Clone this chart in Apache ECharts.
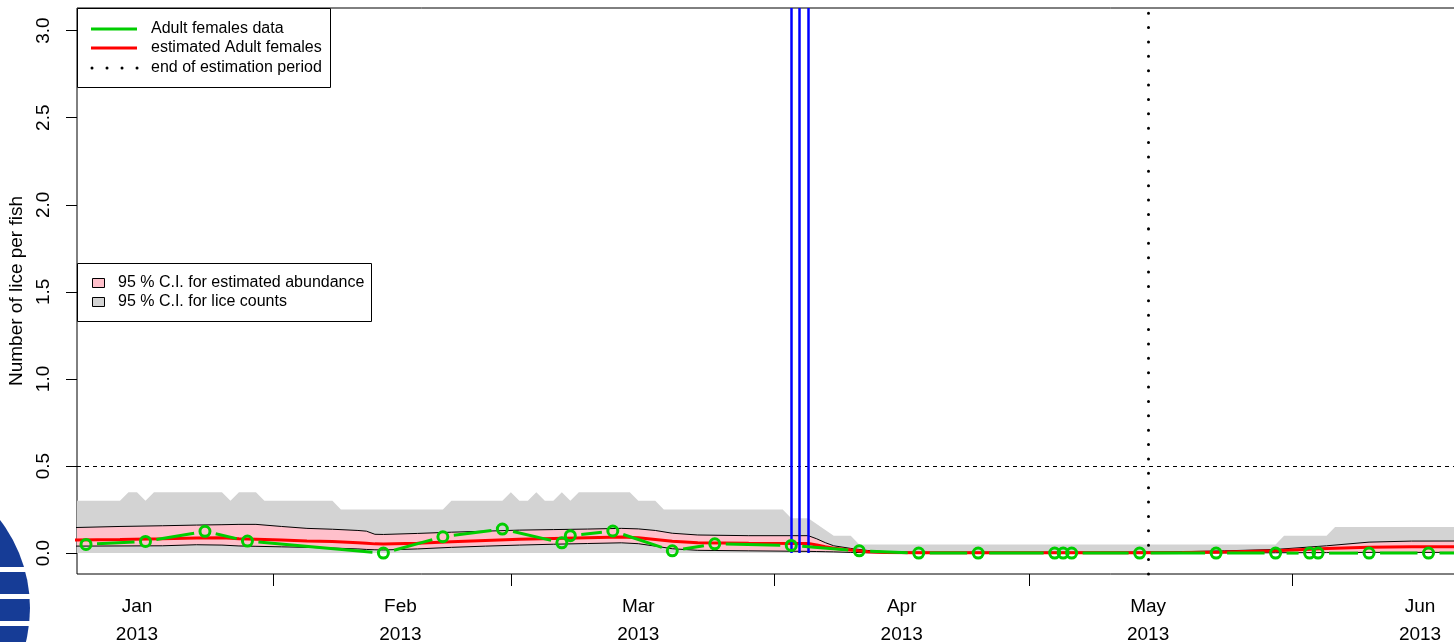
<!DOCTYPE html>
<html>
<head>
<meta charset="utf-8">
<script src="https://cdn.jsdelivr.net/npm/echarts@6/dist/echarts.min.js"></script>
<style>
  html, body { margin: 0; padding: 0; background: #fff; overflow: hidden; }
  #chart { width: 1454px; height: 642px; }
</style>
</head>
<body>
<div id="chart"></div>
<script>
// Days are counted from 1 Jan 2013 (day 0).
const monthDays = [0, 31, 59, 90, 119, 151];
const monthNames = ['Jan', 'Feb', 'Mar', 'Apr', 'May', 'Jun'];
const yearLabel = '2013';
const midMonthTicks = [16, 44, 75, 105, 136];
const yTicks = [0, 0.5, 1, 1.5, 2, 2.5, 3];

// Observed adult females per fish
const dataDays = [-6, 1, 8, 13, 29, 36, 43, 50, 51, 56, 63, 68, 77, 85, 92, 99, 108, 109, 110, 118, 127, 134, 138, 139, 145, 152, 159];
const dataVals = [0.050, 0.067, 0.125, 0.069, 0.0, 0.094, 0.138, 0.059, 0.100, 0.127, 0.013, 0.053, 0.044, 0.013, 0, 0, 0, 0, 0, 0, 0, 0, 0, 0, 0, 0, 0];

// 95 % C.I. for lice counts (upper edge, lower edge is zero)
const countDays = [-8, -2, -1, 0, 1, 2, 10, 11, 12, 14, 15, 23, 24, 36, 37, 43, 44, 45, 46, 47, 48, 49, 50, 51, 52, 58, 59, 61, 62, 76, 77, 79, 82, 84, 85, 134, 135, 140, 141, 162];
const countUpper = [0.30, 0.30, 0.35, 0.35, 0.30, 0.35, 0.35, 0.30, 0.35, 0.35, 0.30, 0.30, 0.25, 0.25, 0.30, 0.30, 0.35, 0.30, 0.30, 0.35, 0.30, 0.30, 0.35, 0.30, 0.35, 0.35, 0.30, 0.30, 0.25, 0.25, 0.20, 0.20, 0.10, 0.10, 0.05, 0.05, 0.10, 0.10, 0.15, 0.15];

// Estimated abundance and its 95 % C.I.
const estDays  = [-8, -2, 3, 7, 10, 12, 14, 17, 20, 23, 26, 27, 28, 29, 33, 37, 41, 45, 49, 53, 57, 59, 61, 63, 66, 72, 79, 80, 81, 82, 84, 86, 88, 92, 100, 110, 118, 123, 128, 134, 140, 145, 150, 162];
const estUpper = [0.146, 0.153, 0.157, 0.161, 0.163, 0.165, 0.165, 0.153, 0.142, 0.137, 0.130, 0.126, 0.108, 0.107, 0.113, 0.120, 0.126, 0.132, 0.135, 0.138, 0.142, 0.139, 0.130, 0.114, 0.104, 0.100, 0.100, 0.082, 0.060, 0.042, 0.027, 0.015, 0.008, 0.005, 0.005, 0.005, 0.006, 0.008, 0.013, 0.021, 0.042, 0.063, 0.069, 0.070];
const estMean  = [0.075, 0.078, 0.082, 0.087, 0.088, 0.083, 0.080, 0.075, 0.070, 0.066, 0.060, 0.057, 0.053, 0.052, 0.057, 0.065, 0.072, 0.079, 0.084, 0.088, 0.092, 0.088, 0.078, 0.068, 0.060, 0.057, 0.055, 0.047, 0.036, 0.028, 0.018, 0.008, 0.004, 0.002, 0.002, 0.002, 0.002, 0.003, 0.007, 0.013, 0.026, 0.034, 0.036, 0.037];
const estLower = [0.040, 0.041, 0.042, 0.048, 0.046, 0.041, 0.039, 0.036, 0.033, 0.029, 0.024, 0.021, 0.019, 0.018, 0.024, 0.033, 0.040, 0.046, 0.051, 0.055, 0.059, 0.054, 0.040, 0.025, 0.016, 0.013, 0.010, 0.009, 0.008, 0.007, 0.004, 0.002, 0.001, 0, 0, 0, 0, 0, 0.001, 0.002, 0.003, 0.004, 0.004, 0.004];

// Treatment days and end of estimation period
const treatmentDays = [77, 78, 79];
const estimationEnd = 119;
const referenceLevel = 0.5;

const X_MIN = -7.06, X_MAX = 160.06;
const Y_MIN = -0.12, Y_MAX = 3.13;
const FONT = '"Liberation Sans", Arial, Helvetica, sans-serif';
const GREEN = '#00CD00';

const chart = echarts.init(document.getElementById('chart'), null, { renderer: 'canvas' });

const pair = (xs, ys) => xs.map((x, i) => [x, ys[i]]);
const segments = dataDays.slice(0, -1).map((d, i) => [d, dataVals[i], dataDays[i + 1], dataVals[i + 1]]);

const option = {
  animation: false,
  backgroundColor: '#fff',
  textStyle: { fontFamily: FONT },
  grid: {
    left: 77, top: 8, width: 1420, height: 566,
    outerBoundsMode: 'none', containLabel: false,
    show: true, borderColor: '#000', borderWidth: 1, backgroundColor: 'transparent'
  },
  xAxis: {
    type: 'value', min: X_MIN, max: X_MAX, position: 'bottom',
    axisLine: { show: false, onZero: false },
    splitLine: { show: false },
    axisTick: { show: true, customValues: midMonthTicks, length: 12, lineStyle: { color: '#000', width: 1 } },
    axisLabel: {
      customValues: monthDays, margin: 19, color: '#000', fontSize: 19, lineHeight: 28, fontFamily: FONT,
      hideOverlap: false,
      formatter: v => { const i = monthDays.indexOf(Math.round(v)); return i < 0 ? '' : monthNames[i] + '\n' + yearLabel; }
    }
  },
  yAxis: {
    type: 'value', min: Y_MIN, max: Y_MAX,
    name: 'Number of lice per fish', nameLocation: 'middle', nameRotate: 90, nameGap: 48,
    nameTextStyle: { color: '#000', fontSize: 19, fontFamily: FONT },
    axisLine: { show: false, onZero: false },
    splitLine: { show: false },
    axisTick: { show: true, customValues: yTicks, length: 11, lineStyle: { color: '#000', width: 1 } },
    axisLabel: { customValues: yTicks, rotate: 90, margin: 24, color: '#000', fontSize: 19, fontFamily: FONT, formatter: v => v.toFixed(1) }
  },
  series: [
    {
      name: '95 % C.I. for lice counts', type: 'line', z: 1, silent: true,
      data: pair(countDays, countUpper), showSymbol: false, clip: true,
      lineStyle: { width: 0, opacity: 0 }, areaStyle: { color: '#D3D3D3', opacity: 1 }
    },
    {
      name: '95 % C.I. for estimated abundance', type: 'custom', z: 2, silent: true, clip: true,
      data: [[estDays[0], estUpper[0]]],
      renderItem: (params, api) => {
        if (params.dataIndex !== 0) return null;
        const pts = [];
        for (let i = 0; i < estDays.length; i++) pts.push(api.coord([estDays[i], estUpper[i]]));
        for (let i = estDays.length - 1; i >= 0; i--) pts.push(api.coord([estDays[i], estLower[i]]));
        return { type: 'polygon', shape: { points: pts }, style: { fill: '#FFC0CB' } };
      }
    },
    {
      name: 'upper', type: 'line', z: 3, silent: true, showSymbol: false, clip: true,
      data: pair(estDays, estUpper), lineStyle: { color: '#000', width: 1 },
      markLine: {
        silent: true, symbol: 'none', label: { show: false }, animation: false,
        data: [
          { yAxis: referenceLevel, lineStyle: { color: '#000', width: 1, type: [4, 4] } },
          [{ coord: [estimationEnd, Y_MIN] }, { coord: [estimationEnd, Y_MAX], lineStyle: { color: '#000', width: 3, type: [0.01, 14.37], cap: 'round' } }]
        ]
      }
    },
    {
      name: 'lower', type: 'line', z: 3, silent: true, showSymbol: false, clip: true,
      data: pair(estDays, estLower), lineStyle: { color: '#000', width: 1 }
    },
    {
      name: 'estimated Adult females', type: 'line', z: 4, silent: true, showSymbol: false, clip: true,
      data: pair(estDays, estMean), lineStyle: { color: '#FF0000', width: 3 },
      markLine: {
        silent: true, symbol: 'none', label: { show: false }, animation: false,
        lineStyle: { color: '#0000FF', width: 2.5, type: 'solid' },
        data: treatmentDays.map(d => [{ coord: [d, 0] }, { coord: [d, Y_MAX] }])
      }
    },
    {
      name: 'Adult females data', type: 'custom', z: 5, silent: true, clip: true,
      data: segments, encode: { x: [0, 2], y: [1, 3] },
      renderItem: (params, api) => {
        const a = api.coord([api.value(0), api.value(1)]);
        const b = api.coord([api.value(2), api.value(3)]);
        const dx = b[0] - a[0], dy = b[1] - a[1];
        const len = Math.hypot(dx, dy);
        const gap = 11;
        if (len <= 2 * gap) return null;
        const ux = dx / len, uy = dy / len;
        return {
          type: 'line',
          shape: { x1: a[0] + ux * gap, y1: a[1] + uy * gap, x2: b[0] - ux * gap, y2: b[1] - uy * gap },
          style: { stroke: GREEN, lineWidth: 3 }
        };
      }
    },
    {
      name: 'data points', type: 'scatter', z: 6, silent: true,
      data: pair(dataDays, dataVals), symbol: 'circle', symbolSize: 10,
      itemStyle: { color: 'rgba(0,0,0,0)', borderColor: GREEN, borderWidth: 3, opacity: 1 }
    }
  ],
  graphic: [
    // emblem in the lower left corner
    { type: 'group', z: 50, children: [
      { type: 'circle', shape: { cx: -114, cy: 608, r: 144 }, style: { fill: '#163c96' } },
      { type: 'rect', shape: { x: 0, y: 567, width: 40, height: 5 }, style: { fill: '#fff' } },
      { type: 'rect', shape: { x: 0, y: 594, width: 40, height: 5 }, style: { fill: '#fff' } },
      { type: 'rect', shape: { x: 0, y: 621, width: 40, height: 5 }, style: { fill: '#fff' } }
    ]},
    // line legend
    { type: 'group', z: 100, children: [
      { type: 'rect', shape: { x: 77.5, y: 8.5, width: 253, height: 79 }, style: { fill: '#fff', stroke: '#000', lineWidth: 1 } },
      { type: 'line', shape: { x1: 91, y1: 29, x2: 137, y2: 29 }, style: { stroke: GREEN, lineWidth: 3 } },
      { type: 'line', shape: { x1: 91, y1: 48, x2: 137, y2: 48 }, style: { stroke: '#FF0000', lineWidth: 3 } },
      { type: 'line', shape: { x1: 92, y1: 68, x2: 138, y2: 68 }, style: { stroke: '#000', lineWidth: 3, lineDash: [0.01, 15], lineCap: 'round' } },
      { type: 'text', x: 151, y: 29, style: { text: 'Adult females data', font: '16px ' + FONT, fill: '#000', verticalAlign: 'middle' } },
      { type: 'text', x: 151, y: 48, style: { text: 'estimated Adult females', font: '16px ' + FONT, fill: '#000', verticalAlign: 'middle' } },
      { type: 'text', x: 151, y: 68, style: { text: 'end of estimation period', font: '16px ' + FONT, fill: '#000', verticalAlign: 'middle' } }
    ]},
    // band legend
    { type: 'group', z: 100, children: [
      { type: 'rect', shape: { x: 77.5, y: 263.5, width: 294, height: 58 }, style: { fill: '#fff', stroke: '#000', lineWidth: 1 } },
      { type: 'rect', shape: { x: 92.5, y: 278.5, width: 12, height: 9 }, style: { fill: '#FFC0CB', stroke: '#000', lineWidth: 1 } },
      { type: 'rect', shape: { x: 92.5, y: 297.5, width: 12, height: 9 }, style: { fill: '#D3D3D3', stroke: '#000', lineWidth: 1 } },
      { type: 'text', x: 118, y: 283, style: { text: '95 % C.I. for estimated abundance', font: '16px ' + FONT, fill: '#000', verticalAlign: 'middle' } },
      { type: 'text', x: 118, y: 302, style: { text: '95 % C.I. for lice counts', font: '16px ' + FONT, fill: '#000', verticalAlign: 'middle' } }
    ]}
  ]
};

chart.setOption(option);
</script>
</body>
</html>
